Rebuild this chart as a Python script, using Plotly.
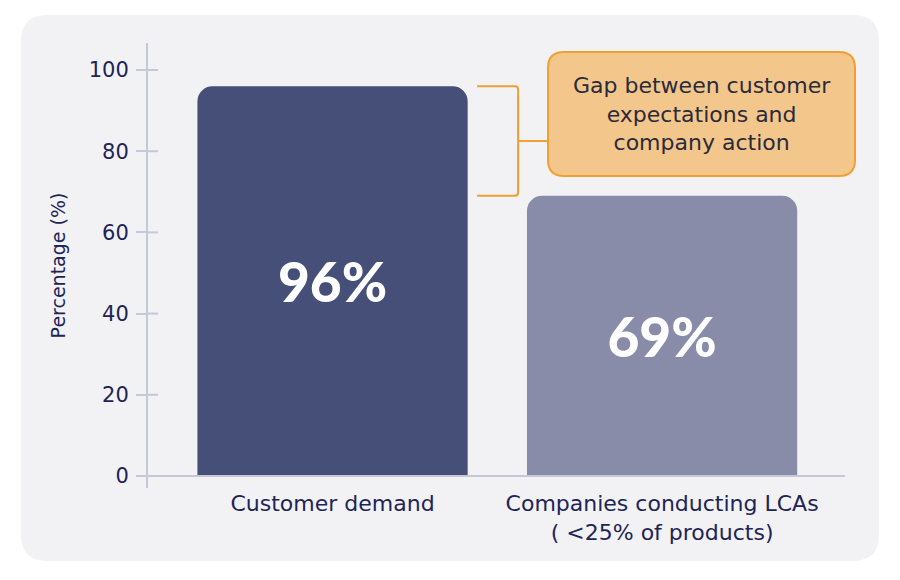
import plotly.graph_objects as go

categories = ["Customer demand", "Companies conducting LCAs<br>( <25% of products)"]
values = [96, 69]
bar_colors = ["#454f77", "#888ca8"]
y_ticks = [0, 20, 40, 60, 80, 100]
gap_text = "Gap between customer<br>expectations and<br>company action"
y_title = "Percentage (%)"

FONT = "DejaVu Sans"
TXT = "#1e2456"
AXIS = "#c5c8d8"

OFF = 8  # page body margin
W, H = 884, 564
ML = 148 - OFF
MT = 43 - OFF
MR = W - (845 - OFF)
MB = H - (488 - OFF)
PW, PH = W - ML - MR, H - MT - MB

def px2paper(x, y):
    return ((x - OFF) - ML) / PW, (H - MB - (y - OFF)) / PH

def rounded_rect(x0, y0, x1, y1, r):
    def p(x, y):
        a, b = px2paper(x, y)
        return f"{a:.5f},{b:.5f}"
    return (f"M {p(x0+r, y0)} L {p(x1-r, y0)} Q {p(x1, y0)} {p(x1, y0+r)} "
            f"L {p(x1, y1-r)} Q {p(x1, y1)} {p(x1-r, y1)} L {p(x0+r, y1)} "
            f"Q {p(x0, y1)} {p(x0, y1-r)} L {p(x0, y0+r)} Q {p(x0, y0)} {p(x0+r, y0)} Z")

fig = go.Figure(go.Bar(
    x=[0, 1], y=values, width=0.82,
    marker=dict(color=bar_colors, line=dict(width=0), cornerradius=15),
    texttemplate="%{y}%", textposition="inside", insidetextanchor="middle",
    textangle=0,
    textfont=dict(family="Lato", size=55, color="white", weight=900),
    hoverinfo="skip",
))

shapes = []
shapes.append(dict(type="path", xref="paper", yref="paper", layer="below",
                   path=rounded_rect(21, 15, 879, 561, 26),
                   fillcolor="#f2f2f5", line=dict(width=0)))
shapes.append(dict(type="line", xref="paper", yref="y",
                   x0=-11 / PW, x1=1, y0=0, y1=0,
                   line=dict(color=AXIS, width=2)))
for t in y_ticks:
    shapes.append(dict(type="line", xref="paper", yref="y",
                       x0=0, x1=10 / PW, y0=t, y1=t,
                       line=dict(color=AXIS, width=2)))
bx0, bx1, bx2 = 0.4386, 0.5630, 0.654
mid = (values[0] + values[1]) / 2
shapes.append(dict(type="path", xref="x", yref="y",
                   path=(f"M {bx0},{values[0]} L {bx1-0.01},{values[0]} "
                         f"Q {bx1},{values[0]} {bx1},{values[0]-0.8} "
                         f"L {bx1},{values[1]+0.8} Q {bx1},{values[1]} {bx1-0.01},{values[1]} "
                         f"L {bx0},{values[1]}"),
                   line=dict(color="#f0a033", width=2)))
shapes.append(dict(type="line", xref="x", yref="y",
                   x0=bx1, x1=bx2, y0=mid, y1=mid,
                   line=dict(color="#f0a033", width=2)))
shapes.append(dict(type="path", xref="paper", yref="paper",
                   path=rounded_rect(548, 52, 855, 176, 16),
                   fillcolor="#f3c78c", line=dict(color="#f0a033", width=2)))

ax, ay = px2paper(701.5, 114)
annotations = [dict(xref="paper", yref="paper", x=ax, y=ay, text=gap_text,
                    xanchor="center", yanchor="middle",
                    showarrow=False, align="center",
                    font=dict(family=FONT, size=22, color="#2b2a3a"))]

fig.update_layout(
    width=W, height=H,
    margin=dict(l=ML, r=MR, t=MT, b=MB, pad=0),
    paper_bgcolor="white", plot_bgcolor="rgba(0,0,0,0)",
    showlegend=False,
    shapes=shapes, annotations=annotations,
    font=dict(family=FONT, color=TXT),
    xaxis=dict(range=[-0.56, 1.555], tickvals=[0, 1], ticktext=categories,
               showgrid=False, zeroline=False, showline=False, ticks="",
               tickfont=dict(size=22, color=TXT), fixedrange=True),
    yaxis=dict(range=[-2.96, 106.65], tickvals=y_ticks, showgrid=False,
               zeroline=False, showline=True, linecolor=AXIS, linewidth=2,
               ticks="outside", ticklen=10, tickcolor=AXIS, tickwidth=2,
               ticklabelstandoff=3,
               tickfont=dict(size=21, color=TXT),
               title=dict(text=y_title, font=dict(size=19, color=TXT), standoff=18),
               fixedrange=True),
)

fig.write_html("out.html")
